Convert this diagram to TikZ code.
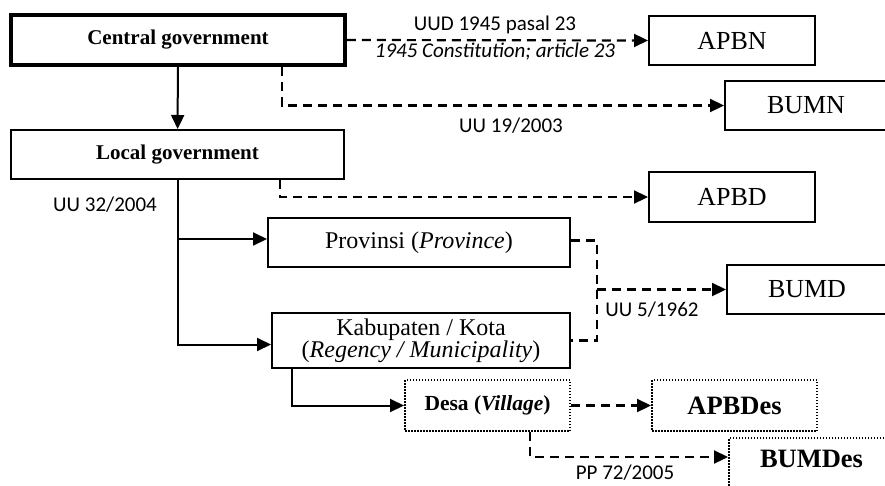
\documentclass[tikz,border=0pt]{standalone}
\usepackage{fontspec}
\setmainfont{Liberation Serif}
\newfontfamily\calibri{Carlito}
\usetikzlibrary{arrows.meta,calc}
\begin{document}
\begin{tikzpicture}[x=1pt,y=-1pt]
            \tikzstyle{boite}=[draw,line width=2pt,inner sep=0pt,align=center,font=\fontsize{26}{28}\selectfont]
            \tikzset{pointille/.style = {boite,dash pattern=on 1.5pt off 1.5pt}}
            \tikzset{fleche/.style = {-{Triangle[length=14pt,width=13pt]},line width=2pt}}
            \tikzset{tirets/.style = {fleche,line width=2.2pt,dash pattern=on 9pt off 6pt}}
            \tikzset{loi/.style = {font=\calibri\fontsize{21}{23}\selectfont}}
            \useasboundingbox (0,0) rectangle (885,485);
            % boxes
            \node[boite,line width=3.5pt,minimum width=334pt,minimum height=50pt,font=\fontsize{21}{23}\selectfont\bfseries] (central) at (178,40) {Central government};
            \node[boite,minimum width=333pt,minimum height=49pt,font=\fontsize{21}{23}\selectfont\bfseries] (local) at (177.5,154.5) {Local government};
            \node[boite,minimum width=166pt,minimum height=49pt] (apbn) at (732,40.5) {APBN};
            \node[boite,minimum width=162pt,minimum height=49pt] (bumn) at (806,105.5) {BUMN};
            \node[boite,minimum width=166pt,minimum height=50pt] (apbd) at (732,197) {APBD};
            \node[boite,minimum width=302pt,minimum height=49pt,font=\fontsize{24}{26}\selectfont] (prov) at (419,242.5) {Provinsi (\textit{Province})};
            \node[boite,minimum width=160pt,minimum height=49pt] (bumd) at (807,289.5) {BUMD};
            \node[boite,minimum width=298pt,minimum height=55pt,font=\fontsize{24}{22}\selectfont] (kab) at (421,340.5) {Kabupaten / Kota\\(\textit{Regency / Municipality})};
            \node[pointille,minimum width=165pt,minimum height=51pt,font=\fontsize{21.5}{23}\selectfont\bfseries] (desa) at (487.5,405.5) {Desa (\textit{Village})};
            \node[pointille,minimum width=165pt,minimum height=51pt,font=\fontsize{26.5}{28}\selectfont\bfseries] (apbdes) at (734.5,405.5) {APBDes};
            \node[pointille,anchor=north west,align=left,text width=146pt,inner xsep=31pt,inner ysep=11pt,text height=18pt,text depth=20pt,font=\fontsize{26.5}{28}\selectfont\bfseries] (bumdes) at (728,437) {BUMDes};
            \coordinate (simpang) at (597,289.5);
            % connectors
            \draw[fleche] (central) -- (local);
            \draw[tirets] (central.east) -- (apbn.west);
            \draw[tirets] ($(central.south)+(104,0)$) |- (bumn.west);
            \draw[tirets] ($(local.south)+(102.5,0)$) |- (apbd.west);
            \draw[fleche] (local.south) |- ([yshift=3.5pt]prov.west);
            \draw[fleche] (local.south) |- ([yshift=-4pt]kab.west);
            \draw[line width=2.2pt,dash pattern=on 9pt off 6pt] ([yshift=2pt]prov.east) -| (simpang) |- (kab.east);
            \draw[tirets] (simpang) -- (bumd.west);
            \draw[fleche] ($(kab.south)+(-129,0)$) |- (desa.west);
            \draw[tirets] (desa.east) -- (apbdes.west);
            \draw[tirets] ($(desa.south)+(42.5,0)$) |- ([yshift=-20pt]bumdes.north west);
            % labels
            \node[loi] (l1) at (495,25) {UUD 1945 pasal 23};
            \node[loi,font=\calibri\itshape\fontsize{21}{23}\selectfont] (l2) at (495,52) {1945 Constitution; article 23};
            \node[loi] (l3) at (511,126) {UU 19/2003};
            \node[loi] (l4) at (105,205) {UU 32/2004};
            \node[loi] (l5) at (652,310) {UU 5/1962};
            \node[loi] (l6) at (625,473) {PP 72/2005};
\end{tikzpicture}
\end{document}
